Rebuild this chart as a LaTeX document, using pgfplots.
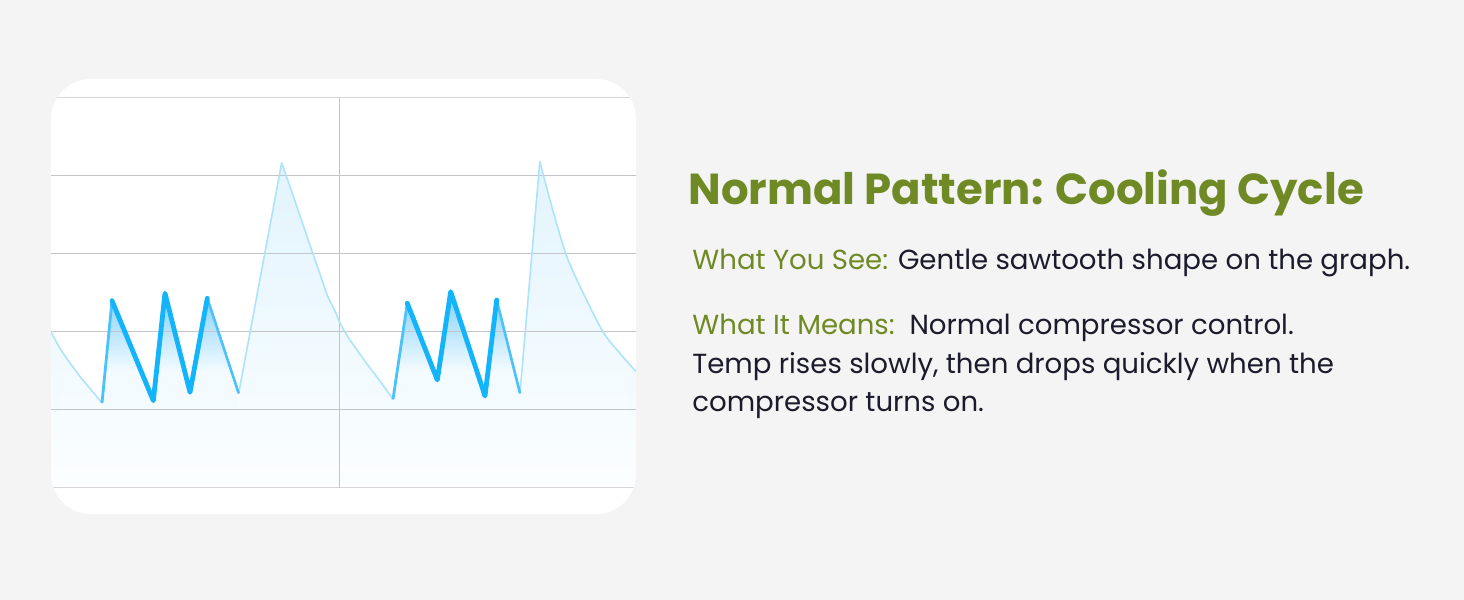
\documentclass[border=0pt]{standalone}
\usepackage{pgfplots}
\pgfplotsset{compat=1.18}
\usepackage{fontspec}
\setmainfont{Poppins}

\definecolor{pagebg}{HTML}{F4F4F4}
\definecolor{gridmid}{HTML}{C4C4CB}
\definecolor{gridedge}{HTML}{D6D6DA}
\definecolor{thinline}{HTML}{ADE3FB}
\definecolor{thickline}{HTML}{14B4FB}
\definecolor{midline}{HTML}{4CC2FA}
\definecolor{fadehi}{HTML}{80D0FA}
\definecolor{fadelo}{HTML}{F4FBFF}
\definecolor{lighttop}{HTML}{E2F4FD}
\definecolor{lightbot}{HTML}{FCFEFF}
\definecolor{titlegreen}{HTML}{6F8A24}
\definecolor{bodyink}{HTML}{1B1B2B}

% shading for the dark zigzag fill: pale below ~1/3 of its height, blue at the top
\pgfdeclareverticalshading{thickfade}{100bp}{color(0bp)=(fadelo); color(25bp)=(fadelo);
  color(41bp)=(fadelo); color(75bp)=(fadehi); color(100bp)=(fadehi)}

\begin{document}
\begin{tikzpicture}[x=0.5pt,y=0.5pt]
% page and card (pixel units, y upwards)
\fill[pagebg] (0,0) rectangle (1464,600);
\fill[white] (51,86) [rounded corners=20pt] rectangle (636,521);

\begin{scope}
\clip (51,86) [rounded corners=20pt] rectangle (636,521);
\begin{axis}[
  at={(51,112)}, anchor=south west,
  scale only axis,
  width=292.5pt, height=195pt,
  xmin=0, xmax=585, ymin=0, ymax=390,
  axis line style={draw=none},
  xtick=\empty, ytick=\empty,
]
% pale area under the whole trace
\addplot[draw=none, top color=lighttop, bottom color=lightbot] coordinates {
  (0,156) (9,139.5) (19,125) (29,111.5) (39,99.5) (51,85)
  (61,187.3) (102.3,87.3) (114,194.7) (139,95.7) (156.3,189.7) (187.7,94.7)
  (230.7,325.3) (246,281) (262,234) (271,208) (277,191) (284,177) (289,165)
  (297,151) (306,138) (316,124) (326,111) (334,100) (342,88.7)
  (356.3,184.7) (386.3,108) (399.7,196.3) (434,92) (445.7,188) (469,94.7)
  (488.8,326.5) (499,288) (515,233.7) (532.3,194.7) (552.3,155.7) (569,134.7) (585,116.3)
} \closedcycle;

% stronger fill under the two zigzag groups
\addplot[draw=none, shading=thickfade] coordinates {
  (51,80) (51,85) (61,187.3) (102.3,87.3) (114,194.7) (139,95.7) (156.3,189.7) (187.7,94.7) (187.7,80)
} -- cycle;
\addplot[draw=none, shading=thickfade] coordinates {
  (342,80) (342,88.7) (356.3,184.7) (386.3,108) (399.7,196.3) (434,92) (445.7,188) (469,94.7) (469,80)
} -- cycle;

% grid, drawn over the fills and under the trace
\addplot[gridedge, line width=0.5pt] coordinates {(0,0) (585,0)};
\addplot[gridedge, line width=0.5pt] coordinates {(0,390) (585,390)};
\addplot[gridmid, line width=0.5pt] coordinates {(0,78) (585,78)};
\addplot[gridmid, line width=0.5pt] coordinates {(0,156) (585,156)};
\addplot[gridmid, line width=0.5pt] coordinates {(0,234) (585,234)};
\addplot[gridmid, line width=0.5pt] coordinates {(0,312) (585,312)};
\addplot[gridmid, line width=0.5pt] coordinates {(288,0) (288,390)};

% thin trace: slow warm-up curves smoothed, compressor runs straight
\addplot[thinline, line width=0.8pt, smooth, tension=0.5] coordinates {
  (0,156) (9,139.5) (19,125) (29,111.5) (39,99.5) (51,85)};
\addplot[thinline, line width=0.8pt, line join=round] coordinates {
  (51,85) (61,187.3) (102.3,87.3) (114,194.7) (139,95.7) (156.3,189.7) (187.7,94.7)
  (230.7,325.3)};
\addplot[thinline, line width=0.8pt, smooth, tension=0.5] coordinates {
  (230.7,325.3) (246,281) (262,234) (271,208) (277,191) (284,177) (289,165)
  (297,151) (306,138) (316,124) (326,111) (334,100) (342,88.7)};
\addplot[thinline, line width=0.8pt, line join=round] coordinates {
  (342,88.7) (356.3,184.7) (386.3,108) (399.7,196.3) (434,92) (445.7,188) (469,94.7)
  (488.8,326.5)};
\addplot[thinline, line width=0.8pt, smooth, tension=0.5] coordinates {
  (488.8,326.5) (499,288) (515,233.7) (532.3,194.7) (552.3,155.7) (569,134.7) (585,116.3)};

% highlighted compressor cycles
\addplot[midline, line width=1.4pt] coordinates {(51,85) (61,187.3)};
\addplot[midline, line width=1.3pt] coordinates {(156.3,189.7) (187.7,94.7)};
\addplot[thickline, line width=2.4pt, line join=round, line cap=round] coordinates {
  (61,187.3) (102.3,87.3) (114,194.7) (139,95.7) (156.3,189.7)};
\addplot[midline, line width=1.4pt] coordinates {(342,88.7) (356.3,184.7)};
\addplot[midline, line width=1.3pt] coordinates {(445.7,188) (469,94.7)};
\addplot[thickline, line width=2.4pt, line join=round, line cap=round] coordinates {
  (356.3,184.7) (386.3,108) (399.7,196.3) (434,92) (445.7,188)};
\end{axis}
\end{scope}

% text panel
\node[anchor=base west, inner sep=0pt, font=\fontsize{21.7pt}{26pt}\selectfont\bfseries, text=titlegreen]
  at (688,395.3) {Normal Pattern: Cooling Cycle};
\node[anchor=base west, inner sep=0pt, font=\fontsize{13.8pt}{16pt}\selectfont, text=bodyink]
  at (692,330.7) {\textcolor{titlegreen}{What You See:} Gentle sawtooth shape on the graph.};
\node[anchor=base west, inner sep=0pt, font=\fontsize{13.8pt}{16pt}\selectfont, text=bodyink]
  at (692,265) {\textcolor{titlegreen}{What It Means:}\ \ Normal compressor control.};
\node[anchor=base west, inner sep=0pt, font=\fontsize{13.8pt}{16pt}\selectfont, text=bodyink]
  at (692,226.7) {Temp rises slowly, then drops quickly when the};
\node[anchor=base west, inner sep=0pt, font=\fontsize{13.8pt}{16pt}\selectfont, text=bodyink]
  at (692,188.3) {compressor turns on.};
\end{tikzpicture}
\end{document}
